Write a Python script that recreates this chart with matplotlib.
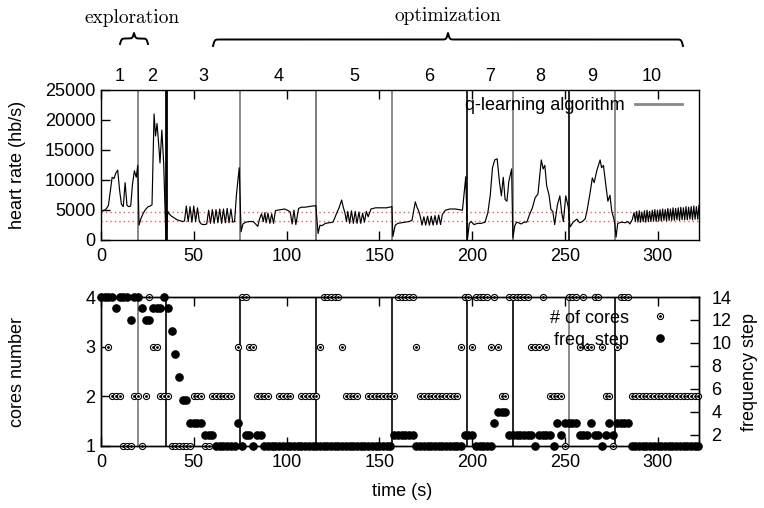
import numpy as np
import matplotlib.pyplot as plt
from matplotlib.lines import Line2D
from matplotlib.legend_handler import HandlerTuple
import matplotlib.transforms as mtransforms

plt.rcParams['font.family'] = ['Liberation Sans', 'DejaVu Sans']
plt.rcParams['font.size'] = 13

# ---- heart rate trace (time s, hb/s) ----
hr_t = [0, 1, 2, 3, 4, 5, 6, 7, 8, 9, 10, 11, 12, 13, 14, 15, 16, 17, 18, 19, 19.8,
        20.5, 21.5, 22.5, 23.5, 24.5, 25.5, 26.5, 27.5, 28.6, 29.4, 30.2, 31, 31.8, 32.8, 33.8, 35,
        36, 37, 38, 39, 40, 41, 42, 43, 44, 45, 46, 47, 48, 49, 50, 51, 52, 53, 54, 55,
        56, 57, 58, 59, 60, 61, 62, 63, 64, 65, 66, 67, 68, 69, 70, 71, 72, 73, 74.5,
        75.5, 76.5, 78, 80, 82, 83, 84.5, 85.5, 86.5, 87.5, 88.3, 89, 90, 91, 92, 93, 94, 95,
        97, 99, 101, 102, 103, 104, 105, 106.5, 108, 110, 112, 114, 115.8,
        117, 118, 119, 121, 123, 125, 126, 127, 128.3, 129.7, 130.5, 131.5, 132.3, 133, 134,
        135, 136, 137, 138, 139, 140, 141, 142, 143, 144, 145.5, 148, 151, 154, 156.8,
        157.3, 158.6, 160, 162, 164, 166, 167.6, 169.4, 170.3, 171.2, 172.1, 173, 174, 175,
        176, 177, 178, 179, 180, 181, 182, 183, 184, 185.6, 188, 191, 194.8, 196.6,
        197.5, 198.5, 199.5, 201, 203, 205, 207, 208.5, 209.8, 211, 212.2, 213.5, 214.8,
        215.8, 216.8, 217.8, 218.8, 219.8, 221.3,
        222, 223, 224, 225, 226.5, 228, 229.5, 231, 232.5, 234, 235.5, 237.3, 238.3, 239.2,
        240.2, 241.5, 242.5, 243.5, 244.5, 246, 247.3, 248.3, 249.2, 250.5, 251.8,
        252.8, 254.5, 256.5, 258, 259.5, 261, 262, 263.6, 264.8, 265.8, 267.2, 269, 269.8,
        270.8, 272.2, 273.2, 274.3, 275.3, 276.8,
        277.6, 278.5, 280.5, 282.5, 284, 285, 286.3, 287.3, 288,
        288.7, 289.4, 290.1, 290.8, 291.5, 292.2, 292.9, 293.6, 294.3, 295.0, 295.7, 296.4,
        297.1, 297.8, 298.5, 299.2, 299.9, 300.6, 301.3, 302.0, 302.7, 303.4, 304.1, 304.8,
        305.5, 306.2, 306.9, 307.6, 308.3, 309.0, 309.7, 310.4, 311.1, 311.8, 312.5, 313.2,
        313.9, 314.6, 315.3, 316.0, 316.7, 317.4, 318.1, 318.8, 319.5, 320.2, 320.9, 321.6, 322.3]
hr_v = [4700, 4800, 4900, 5200, 5700, 8000, 10400, 10200, 11100, 11600, 8300, 5900, 5500, 9500,
        5700, 5500, 5600, 9300, 11500, 10400, 12400,
        2400, 3500, 4200, 4800, 5200, 5500, 5600, 5800, 21000, 17300, 19400, 16300, 12800, 18300, 12600, 0,
        4700, 4200, 3900, 3700, 3500, 3300, 3200, 3100, 3000, 3100, 5600, 3000, 5500, 2900, 5600, 3000,
        5300, 3000, 2600, 2500,
        2500, 2600, 4900, 2700, 5000, 2700, 5000, 2800, 5100, 2700, 5100, 2800, 5200, 2800, 5100, 2900,
        3000, 7500, 12000,
        1300, 2600, 2900, 3000, 3000, 2700, 2200, 3500, 4300, 3000, 4500, 2800, 4400, 2700, 4300, 2700,
        4800, 4900,
        5000, 5100, 4800, 4600, 2600, 4900, 2500, 5200, 5400, 5400, 5500, 5600, 5650,
        1000, 2400, 2300, 2700, 2800, 2900, 3600, 4400, 5300, 6600, 5500, 4400, 3000, 4700, 2700,
        4800, 2700, 4700, 2700, 4600, 2700, 4400, 2900, 4700, 3800, 5100, 5300, 5300, 5300, 5500,
        500, 2400, 2700, 2800, 2900, 3000, 3200, 6300, 5400, 4800, 3800, 2400, 3800, 2400,
        3900, 2400, 3900, 2400, 4000, 2500, 4100, 2500, 4200, 4900, 5100, 5100, 4900, 10500,
        0, 2700, 3000, 2500, 2700, 2700, 2900, 4500, 7400, 12000, 13300, 13500, 9500,
        7300, 10400, 6700, 6400, 9700, 11800,
        250, 2300, 2900, 2800, 2600, 2900, 2900, 4200, 5300, 7000, 7600, 13300, 11800, 12400,
        9000, 7400, 5000, 4700, 2500, 5800, 7300, 4500, 3000, 7300, 5500,
        2100, 2900, 3400, 2800, 3000, 3500, 4900, 7800, 10300, 9500, 11500, 13300, 12000,
        12400, 8800, 6400, 7400, 4700, 3000,
        400, 2700, 2900, 2800, 3000, 2600, 3300, 4500, 3000,
        4700, 2900, 4800, 2900, 4600, 3000, 4800, 2900, 4900, 3000, 4700, 3000,
        4900, 3100, 5000, 3000, 4900, 3100, 5000, 3100, 5100, 3200, 5000, 3100,
        5200, 3200, 5100, 3200, 5300, 3200, 5200, 3300, 5300, 3200, 5400, 3300,
        5300, 3300, 5500, 3300, 5400, 3400, 5500, 3300, 5600, 3400, 5500, 3400, 5700]

target_hr = [4650, 3100]

# ---- controller decisions: number of cores and frequency step ----
ctrl_t = [0, 2, 4, 6, 8, 10, 12, 14, 16, 18,
          20, 22, 24, 26, 28, 30, 32, 34, 36, 38,
          40, 42, 44, 46, 48, 50, 52, 54, 56, 58,
          60, 62, 64, 66, 68, 70, 72, 74, 76, 78,
          80, 82, 84, 86, 88, 90, 92, 94, 96, 98,
          100, 102, 104, 106, 108, 110, 112, 114, 116, 118,
          120, 122, 124, 126, 128, 130, 132, 134, 136, 138,
          140, 142, 144, 146, 148, 150, 152, 154, 156, 158,
          160, 162, 164, 166, 168, 170, 172, 174, 176, 178,
          180, 182, 184, 186, 188, 190, 192, 194, 196, 198,
          200, 202, 204, 206, 208, 210, 212, 214, 216, 218,
          220, 222, 224, 226, 228, 230, 232, 234, 236, 238,
          240, 242, 244, 246, 248, 250, 252, 254, 256, 258,
          260, 262, 264, 266, 268, 270, 272, 274, 276, 278,
          280, 282, 284, 286, 288, 290, 292, 294, 296, 298,
          300, 302, 304, 306, 308, 310, 312, 314, 316, 318,
          320, 322]
cores = [4, 4, 3, 2, 2, 2, 1, 1, 1, 2,
         2, 1, 2, 4, 3, 3, 2, 2, 2, 1,
         1, 1, 1, 1, 1, 2, 2, 2, 1, 1,
         2, 2, 2, 2, 2, 2, 1, 3, 4, 4,
         3, 3, 2, 2, 2, 2, 1, 1, 2, 2,
         2, 2, 1, 1, 2, 2, 2, 2, 2, 3,
         4, 4, 4, 4, 4, 3, 2, 2, 2, 2,
         1, 1, 2, 2, 2, 2, 2, 2, 2, 2,
         4, 4, 4, 4, 4, 3, 2, 2, 2, 2,
         2, 2, 2, 2, 2, 2, 2, 3, 4, 4,
         3, 4, 4, 4, 4, 3, 4, 3, 2, 2,
         4, 4, 4, 4, 4, 4, 3, 3, 3, 4,
         3, 2, 2, 2, 2, 1, 4, 4, 4, 3,
         4, 3, 3, 4, 4, 3, 2, 2, 1, 3,
         4, 4, 4, 2, 2, 2, 2, 2, 2, 2,
         2, 2, 2, 2, 2, 2, 2, 2, 2, 2,
         2, 2]
freq = [14, 14, 14, 14, 13, 14, 14, 14, 12, 14,
        14, 13, 12, 12, 13, 13, 13, 14, 13, 11,
        9, 7, 5, 5, 3, 3, 3, 3, 2, 2,
        2, 1, 1, 1, 1, 1, 1, 3, 1, 2,
        2, 1, 2, 2, 1, 1, 1, 1, 1, 1,
        1, 1, 1, 1, 1, 1, 1, 1, 1, 1,
        1, 1, 1, 1, 1, 1, 1, 1, 1, 1,
        1, 1, 1, 1, 1, 1, 1, 1, 1, 2,
        2, 2, 2, 2, 2, 1, 1, 1, 1, 1,
        1, 1, 1, 1, 1, 1, 1, 1, 2, 2,
        2, 1, 1, 1, 1, 1, 3, 4, 4, 4,
        2, 2, 2, 2, 2, 2, 2, 1, 2, 2,
        2, 2, 1, 3, 2, 3, 3, 3, 3, 2,
        2, 2, 3, 2, 2, 1, 2, 3, 2, 3,
        3, 3, 3, 1, 1, 1, 1, 1, 1, 1,
        1, 1, 1, 1, 1, 1, 1, 1, 1, 1,
        1, 1]

# phase boundaries and labels
bounds = [20, 35, 75, 116, 157, 197, 222, 252, 277]
phase_labels = ['1', '2', '3', '4', '5', '6', '7', '8', '9', '10']
phase_mid = [10, 27.5, 55, 95.5, 136.5, 177, 209.5, 237, 264.5, 297]
top_line_col = ['#777777', 'black', '#777777', '#666666', '#777777', 'black', '#777777', 'black', '#777777']
bot_line_col = ['#777777', 'black', 'black', 'black', 'black', 'black', 'black', '#777777', 'black']

W, H = 764, 508
fig = plt.figure(figsize=(W / 100, H / 100), dpi=100)
ax1 = fig.add_axes([101 / W, 1 - 239.5 / H, 598 / W, 149.5 / H])
ax3 = fig.add_axes([101 / W, 1 - 446 / H, 598 / W, 149 / H])
ax4 = ax3.twinx()

XMAX = 322.3

# ---------- top panel ----------
for b, c in zip(bounds, top_line_col):
    ax1.axvline(b, color=c, lw=2.0 if b == 35 else 1.2, zorder=1)
for v in target_hr:
    ax1.axhline(v, color='#f05a5a', ls=(0, (1, 2.2)), lw=1.0, zorder=1)
ax1.plot(hr_t, hr_v, color='black', lw=0.85, zorder=3)
ax1.set_xlim(0, XMAX)
ax1.set_ylim(0, 25000)
ax1.set_xticks(np.arange(0, 301, 50))
ax1.set_yticks(np.arange(0, 25001, 5000))
ax1.tick_params(direction='in', length=6.7, width=1, top=True, right=False, pad=6)
ax1.tick_params(axis='y', pad=4)
for s in ax1.spines.values():
    s.set_linewidth(1.0)

trans = mtransforms.blended_transform_factory(ax1.transData, ax1.transAxes)
for m, lab in zip(phase_mid, phase_labels):
    ax1.text(m, 1.087, lab, transform=trans, ha='center', va='center')

ax1.legend([Line2D([], [], color='#888888', lw=2.0)], ['q-learning algorithm'],
           loc='upper right', bbox_to_anchor=(0.9716, 0.95), frameon=False,
           markerfirst=False, handlelength=2.6, handletextpad=0.6,
           borderaxespad=0, borderpad=0)

# ---------- bottom panel ----------
for b, c in zip(bounds, bot_line_col):
    ax3.axvline(b, color=c, lw=1.2, zorder=1)
h_ring, = ax3.plot(ctrl_t, cores, ls='none', marker='o', ms=4.4, mfc='white', mec='black',
                   mew=0.8, clip_on=False, zorder=3)
h_dot, = ax3.plot(ctrl_t, cores, ls='none', marker='o', ms=1.0, color='black',
                  clip_on=False, zorder=4)
h_fill, = ax4.plot(ctrl_t, freq, ls='none', marker='o', ms=5.2, color='black',
                   clip_on=False, zorder=3)
ax3.set_xlim(0, XMAX)
ax3.set_ylim(1, 4)
ax4.set_ylim(1, 14)
ax3.set_xticks(np.arange(0, 301, 50))
ax3.set_yticks([1, 2, 3, 4])
ax4.set_yticks(np.arange(2, 15, 2))
ax3.tick_params(direction='in', length=6.7, width=1, top=True, right=False, pad=6)
ax3.tick_params(axis='y', pad=4)
ax4.tick_params(axis='y', direction='in', length=6.7, width=1, pad=9)
for s in list(ax3.spines.values()) + list(ax4.spines.values()):
    s.set_linewidth(1.0)

ax4.legend([(h_ring, h_dot), h_fill], ['# of cores', 'freq. step'],
           handler_map={tuple: HandlerTuple(ndivide=1, pad=0)},
           loc='upper right', bbox_to_anchor=(0.965, 0.915), frameon=False,
           markerfirst=False, numpoints=1, handlelength=2.0, handletextpad=0.7,
           labelspacing=0.28, borderaxespad=0, borderpad=0)

# ---------- labels, braces ----------
fig.text(18 / W, 1 - 165 / H, 'heart rate (hb/s)', rotation=90, ha='center', va='center')
fig.text(18 / W, 1 - 372 / H, 'cores number', rotation=90, ha='center', va='center')
fig.text(750 / W, 1 - 372 / H, 'frequency step', rotation=90, ha='center', va='center')
fig.text(402 / W, 1 - 491 / H, 'time (s)', ha='center', va='center')

ovl = fig.add_axes([0, 0, 1, 1])
ovl.set_xlim(0, W)
ovl.set_ylim(H, 0)
ovl.axis('off')
ovl.patch.set_alpha(0)


def brace(x0, x1, y_end, y_tip, beta=1.3):
    half = np.linspace(x0, (x0 + x1) / 2, 200)
    xm = half[-1]
    s = 1 / (1 + np.exp(-beta * (half - x0))) + 1 / (1 + np.exp(-beta * (half - xm))) - 0.5
    yy = np.concatenate([s, s[-2::-1]])
    xx = np.concatenate([half, (x0 + x1) - half[-2::-1]])
    ovl.plot(xx, y_end - (y_end - y_tip) * yy, color='black', lw=1.4)


brace(120, 148, 44, 33)
brace(213, 683, 46, 33)
ovl.text(132, 18, 'exploration', family='cmr10', fontsize=14, ha='center', va='center')
ovl.text(448, 16, 'optimization', family='cmr10', fontsize=14, ha='center', va='center')

fig.savefig('out.png', dpi=100)
